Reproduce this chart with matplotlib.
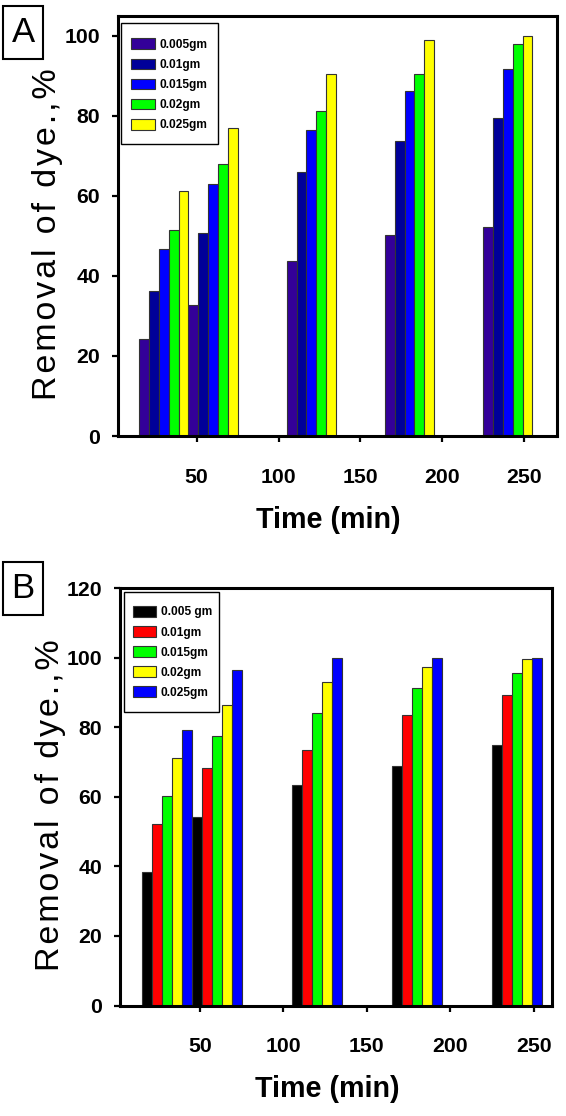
import matplotlib
matplotlib.use('Agg')
import matplotlib.pyplot as plt
from matplotlib.patches import Rectangle
from matplotlib import font_manager
import numpy as np

# time points (min)
time_min = [30, 60, 120, 180, 240]

# panel A - removal (%) for each adsorbent dose
labels_a = ['0.005gm', '0.01gm', '0.015gm', '0.02gm', '0.025gm']
a_0005 = [24.3, 32.6, 43.8, 50.3, 52.1]
a_001 = [36.2, 50.8, 65.9, 73.7, 79.5]
a_0015 = [46.7, 62.9, 76.3, 86.2, 91.7]
a_002 = [51.5, 67.8, 81.1, 90.4, 97.8]
a_0025 = [61.3, 77.0, 90.4, 98.9, 99.9]
colors_a = ['#330099', '#000099', '#0000ff', '#00ff00', '#ffff00']

# panel B
labels_b = ['0.005 gm', '0.01gm', '0.015gm', '0.02gm', '0.025gm']
b_0005 = [38.5, 54.3, 63.5, 68.8, 74.8]
b_001 = [52.2, 68.2, 73.4, 83.6, 89.3]
b_0015 = [60.2, 77.6, 84.2, 91.2, 95.5]
b_002 = [71.1, 86.4, 93.0, 97.2, 99.6]
b_0025 = [79.2, 96.5, 99.8, 100.0, 100.0]
colors_b = ['#000000', '#ff0000', '#00ff00', '#ffff00', '#0000ff']

wide = ['Liberation Sans', 'DejaVu Sans']
# narrow bold font if it is there, otherwise plain Liberation at smaller sizes
try:
    font_manager.findfont('Liberation Sans Narrow', fallback_to_default=False)
    narrow = ['Liberation Sans Narrow', 'Liberation Sans', 'DejaVu Sans']
    shrink = 1.0
except ValueError:
    narrow = wide
    shrink = 0.9

# letter-spaced axis title
ylabel_txt = '\u200a'.join('Removal of dye.,%')

W, H = 566, 1116
fig = plt.figure(figsize=(W / 100, H / 100), dpi=100)


def px_axes(box):
    left, top, right, bottom = box
    return fig.add_axes([left / W, 1 - bottom / H, (right - left) / W, (bottom - top) / H])


def draw_panel(ax, box, series, labels, colors, xlim, ylim, yticks, leg_box, leg_start):
    left, top, right, bottom = box
    fx = lambda px: (px - left) / (right - left)
    fy = lambda py: (bottom - py) / (bottom - top)

    width = 6
    x = np.array(time_min)
    for i, (vals, lab, col) in enumerate(zip(series, labels, colors)):
        ax.bar(x + (i - 2) * width, vals, width, color=col, edgecolor='#333333',
               linewidth=0.8, label=lab, zorder=2)
    ax.set_xlim(*xlim)
    ax.set_ylim(*ylim)
    ax.set_xticks([50, 100, 150, 200, 250])
    ax.set_yticks(yticks)
    for s in ax.spines.values():
        s.set_linewidth(2.2)
    ax.tick_params(axis='both', direction='out', length=4, width=1.6)
    ax.tick_params(axis='x', pad=19)
    ax.tick_params(axis='y', pad=9)
    for t in ax.get_xticklabels() + ax.get_yticklabels():
        t.set_family(narrow)
        t.set_fontweight('bold')
        t.set_fontsize(17 * shrink)
    ax.set_xlabel('Time (min)', family=narrow, fontweight='bold', fontsize=23 * shrink)
    ax.xaxis.set_label_coords(0.48, -0.2)
    ax.xaxis.label.set_va('center')
    ax.set_ylabel(ylabel_txt, family=wide, fontsize=24.5)
    ax.yaxis.set_label_coords(-0.16, 0.48)
    ax.yaxis.label.set_va('center')

    # legend frame of fixed size, entries laid on top of it
    l0, t0, r0, b0 = leg_box
    ax.add_patch(Rectangle((fx(l0), fy(b0)), fx(r0) - fx(l0), fy(t0) - fy(b0),
                           transform=ax.transAxes, facecolor='white',
                           edgecolor='black', linewidth=1.0, zorder=4))
    leg = ax.legend(loc='upper left', bbox_to_anchor=(fx(leg_start[0]), fy(leg_start[1])),
                    borderaxespad=0, borderpad=0, frameon=False,
                    prop={'family': narrow, 'weight': 'bold', 'size': 8.6},
                    handlelength=2.0, handleheight=1.0, handletextpad=0.35,
                    labelspacing=0.64)
    leg.set_zorder(5)


box_a = (118, 15.5, 557, 436)
ax_a = px_axes(box_a)
draw_panel(ax_a, box_a, [a_0005, a_001, a_0015, a_002, a_0025], labels_a, colors_a,
           (2, 270), (0, 105), [0, 20, 40, 60, 80, 100],
           (121, 22.7, 218, 144), (131, 38.5))

box_b = (120, 588, 552, 1005.5)
ax_b = px_axes(box_b)
draw_panel(ax_b, box_b, [b_0005, b_001, b_0015, b_002, b_0025], labels_b, colors_b,
           (2, 261), (0, 120), [0, 20, 40, 60, 80, 100, 120],
           (124, 591.7, 219, 711.7), (132.5, 606))

# panel letters in boxes
for letter, top in [('A', 6), ('B', 562)]:
    fig.patches.append(Rectangle((3 / W, 1 - (top + 53) / H), 40 / W, 53 / H,
                                 transform=fig.transFigure, fill=False,
                                 edgecolor='black', linewidth=1.5))
    fig.text(23 / W, 1 - (top + 27) / H, letter, ha='center', va='center',
             family=wide, fontsize=25)

fig.savefig('out.png', dpi=100, facecolor='white')
